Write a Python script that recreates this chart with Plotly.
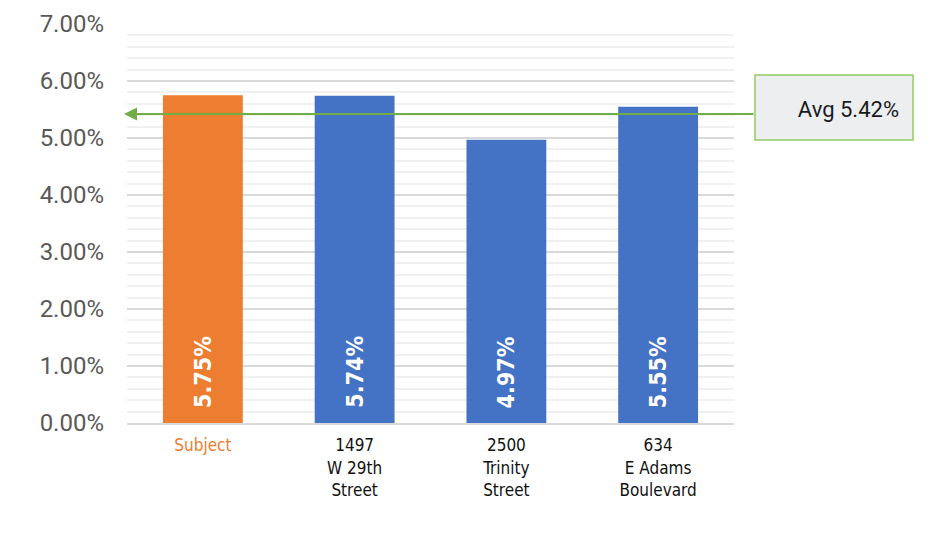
import plotly.graph_objects as go

categories = ["Subject", "1497<br>W 29th<br>Street", "2500<br>Trinity<br>Street", "634<br>E Adams<br>Boulevard"]
values = [5.75, 5.74, 4.97, 5.55]
bar_colors = ["#ED7D31", "#4472C4", "#4472C4", "#4472C4"]
label_colors = ["#ED7D31", "#111111", "#111111", "#111111"]
avg_value = 5.42
avg_label = "Avg 5.42%"
y_ticks = [0, 1, 2, 3, 4, 5, 6, 7]
y_ticktext = [f"{v:.2f}%" for v in y_ticks]

L, R, T, B = 127, 196, 24, 124
W, H = 930, 547
pw = W - L - R
ph = H - T - B

def dx(px):
    return (px - L) / pw

def dy(py):
    return (H - B - py) / ph

cond = "Liberation Sans Narrow, DejaVu Sans Condensed, Arial Narrow, sans-serif"

x_idx = list(range(len(categories)))
fig = go.Figure()
fig.add_trace(go.Bar(
    x=x_idx, y=values, marker_color=bar_colors, width=0.526,
    marker_line_width=0, hoverinfo="skip",
))

for i, v in enumerate(values):
    fig.add_annotation(
        x=i, y=0, xref="x", yref="y", text=f"<b>{v:.2f}%</b>",
        textangle=-90, showarrow=False, yanchor="bottom", yshift=13,
        font=dict(family=cond, size=23, color="white"),
    )

ticktext = [f'<span style="color:{c}">{t}</span>' for t, c in zip(categories, label_colors)]

# average arrow line
fig.add_annotation(
    x=dx(124), y=avg_value, xref="x domain", yref="y",
    ax=dx(755), ay=avg_value, axref="x domain", ayref="y",
    showarrow=True, arrowhead=2, arrowsize=1.3, arrowwidth=2,
    arrowcolor="#70AD47", text="",
)
# box with label
fig.add_shape(type="rect", xref="x domain", yref="y domain",
              x0=dx(755), x1=dx(913), y0=dy(140), y1=dy(75),
              fillcolor="#EDEEF0", line=dict(color="#92CC63", width=1.5), layer="above",
              label=dict(text=avg_label, textposition="middle right", padding=11,
                         font=dict(family="Roboto, Arial, sans-serif", size=22, color="#1a1a1a")))

fig.update_layout(
    width=W, height=H, margin=dict(l=L, r=R, t=T, b=B, autoexpand=False),
    paper_bgcolor="white", plot_bgcolor="white", showlegend=False,
    xaxis=dict(
        range=[-0.5, len(categories) - 0.5], tickvals=x_idx, ticktext=ticktext,
        tickfont=dict(family=cond, size=17, color="#111111"),
        showgrid=False, showline=True, linecolor="#D9D9D9", linewidth=2,
        ticks="", ticklabelstandoff=6, fixedrange=True, automargin=False,
    ),
    yaxis=dict(
        range=[0, 7], tickvals=y_ticks, ticktext=y_ticktext,
        tickfont=dict(family="Roboto, Arial, sans-serif", size=24, color="#595959"),
        showgrid=True, gridcolor="#D9D9D9", gridwidth=1.5, zeroline=False,
        ticklabelstandoff=22, automargin=False,
        minor=dict(dtick=0.2, showgrid=True, gridcolor="#F0F0F0", gridwidth=1.5),
        fixedrange=True,
    ),
)

fig.write_html("out.html")
